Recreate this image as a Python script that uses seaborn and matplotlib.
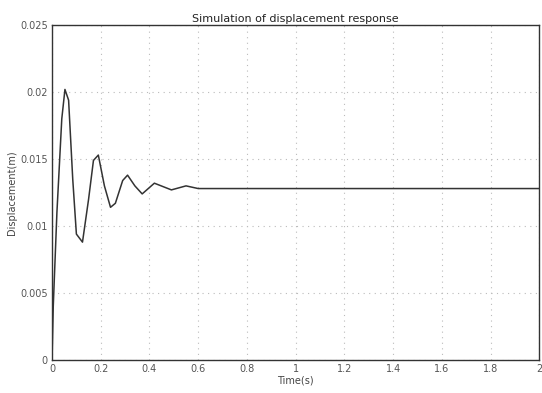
import matplotlib
matplotlib.use("Agg")
import matplotlib.pyplot as plt
import seaborn as sns
import pandas as pd

# values
time_s = [0, 0.005, 0.02, 0.04, 0.053, 0.068, 0.085, 0.1, 0.125, 0.15, 0.17, 0.19,
          0.215, 0.24, 0.26, 0.29, 0.31, 0.34, 0.37, 0.42, 0.49, 0.55, 0.6, 0.8, 1.2, 2.0]
disp_m = [0, 0.004, 0.011, 0.018, 0.0202, 0.0194, 0.0135, 0.0094, 0.0088, 0.012, 0.0149, 0.0153,
          0.0130, 0.0114, 0.0117, 0.0134, 0.0138, 0.0130, 0.0124, 0.0132, 0.0127, 0.0130, 0.0128,
          0.0128, 0.0128, 0.0128]
x_ticks = [0, 0.2, 0.4, 0.6, 0.8, 1, 1.2, 1.4, 1.6, 1.8, 2]
x_tick_labels = ["0", "0.2", "0.4", "0.6", "0.8", "1", "1.2", "1.4", "1.6", "1.8", "2"]
y_ticks = [0, 0.005, 0.01, 0.015, 0.02, 0.025]
y_tick_labels = ["0", "0.005", "0.01", "0.015", "0.02", "0.025"]

df = pd.DataFrame({"t": time_s, "y": disp_m})

sns.set_style("white")
plt.rcParams["font.family"] = ["DejaVu Sans"]

fig = plt.figure(figsize=(5.42, 3.93), dpi=100)
ax = fig.add_axes([0.096, 0.084, 0.899, 0.852])

sns.lineplot(data=df, x="t", y="y", ax=ax, color="#333333", linewidth=1.1)

ax.set_xlim(0, 2)
ax.set_ylim(0, 0.025)
ax.set_xticks(x_ticks)
ax.set_xticklabels(x_tick_labels)
ax.set_yticks(y_ticks)
ax.set_yticklabels(y_tick_labels)
ax.grid(True, linestyle=(0, (1, 4)), color="#bbbbbb", linewidth=0.8)
ax.tick_params(direction="in", length=4, labelsize=7, colors="#555555", pad=3)

for s in ax.spines.values():
    s.set_color("#333333")
    s.set_linewidth(1.0)

ax.set_title("Simulation of displacement response", fontsize=8, color="#222222", pad=2)
ax.set_xlabel("Time(s)", fontsize=7, color="#444444", labelpad=1)
ax.set_ylabel("Displacement(m)", fontsize=7, color="#444444", labelpad=2)

fig.savefig("out.png", dpi=100, facecolor="white")
